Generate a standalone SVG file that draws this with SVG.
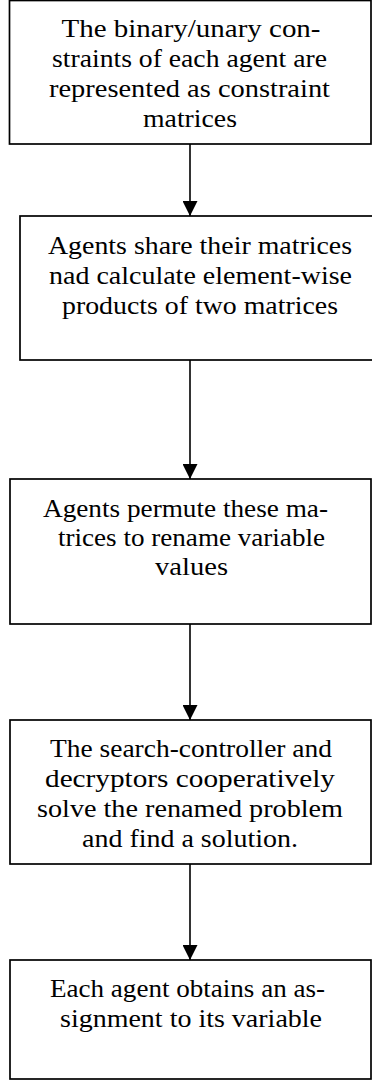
<svg xmlns="http://www.w3.org/2000/svg" width="372" height="1080" viewBox="0 0 372 1080">
<style>
.box{fill:#fff;stroke:#000;stroke-width:1.7}
.t{font-family:"Liberation Serif","DejaVu Serif",serif;font-size:26px;fill:#000;text-anchor:middle}
.c{stroke:#000;stroke-width:1.6;fill:none}
</style>
<defs>
<marker id="ah" markerWidth="16" markerHeight="15" refX="15" refY="7.5" orient="auto" markerUnits="userSpaceOnUse">
<path d="M0,0 L15,7.5 L0,15 Z" fill="#000"/>
</marker>
</defs>
<rect width="372" height="1080" fill="#fff"/>
<g id="connectors">
<line class="c" x1="190" y1="144" x2="190" y2="216" marker-end="url(#ah)"/>
<line class="c" x1="190" y1="360" x2="190" y2="479" marker-end="url(#ah)"/>
<line class="c" x1="190" y1="624" x2="190" y2="720" marker-end="url(#ah)"/>
<line class="c" x1="190" y1="864" x2="190" y2="960" marker-end="url(#ah)"/>
</g>
<g id="n1">
<rect class="box" x="9.5" y="0.5" width="361.5" height="143.5"/>
<text class="t" x="191" y="36.5" textLength="259" lengthAdjust="spacingAndGlyphs">The binary/unary con-</text>
<text class="t" x="189.5" y="66.5" textLength="275" lengthAdjust="spacingAndGlyphs">straints of each agent are</text>
<text class="t" x="189.5" y="96.5" textLength="281" lengthAdjust="spacingAndGlyphs">represented as constraint</text>
<text class="t" x="190" y="126.5" textLength="94" lengthAdjust="spacingAndGlyphs">matrices</text>
</g>
<g id="n2">
<rect class="box" x="20" y="216" width="370" height="144"/>
<text class="t" x="200" y="253.5" textLength="304" lengthAdjust="spacingAndGlyphs">Agents share their matrices</text>
<text class="t" x="200.5" y="283.5" textLength="303" lengthAdjust="spacingAndGlyphs">nad calculate element-wise</text>
<text class="t" x="200" y="313.5" textLength="276" lengthAdjust="spacingAndGlyphs">products of two matrices</text>
</g>
<g id="n3">
<rect class="box" x="10" y="479" width="361" height="145"/>
<text class="t" x="185.5" y="517" textLength="285" lengthAdjust="spacingAndGlyphs">Agents permute these ma-</text>
<text class="t" x="191.5" y="546" textLength="267" lengthAdjust="spacingAndGlyphs">trices to rename variable</text>
<text class="t" x="191.5" y="575" textLength="73" lengthAdjust="spacingAndGlyphs">values</text>
</g>
<g id="n4">
<rect class="box" x="10" y="720" width="361" height="144"/>
<text class="t" x="191" y="757" textLength="282" lengthAdjust="spacingAndGlyphs">The search-controller and</text>
<text class="t" x="190" y="787" textLength="290" lengthAdjust="spacingAndGlyphs">decryptors cooperatively</text>
<text class="t" x="190" y="817" textLength="306" lengthAdjust="spacingAndGlyphs">solve the renamed problem</text>
<text class="t" x="190" y="847" textLength="216" lengthAdjust="spacingAndGlyphs">and find a solution.</text>
</g>
<g id="n5">
<rect class="box" x="10" y="960" width="361" height="119"/>
<text class="t" x="187.5" y="997" textLength="275" lengthAdjust="spacingAndGlyphs">Each agent obtains an as-</text>
<text class="t" x="191" y="1027" textLength="262" lengthAdjust="spacingAndGlyphs">signment to its variable</text>
</g>
</svg>
